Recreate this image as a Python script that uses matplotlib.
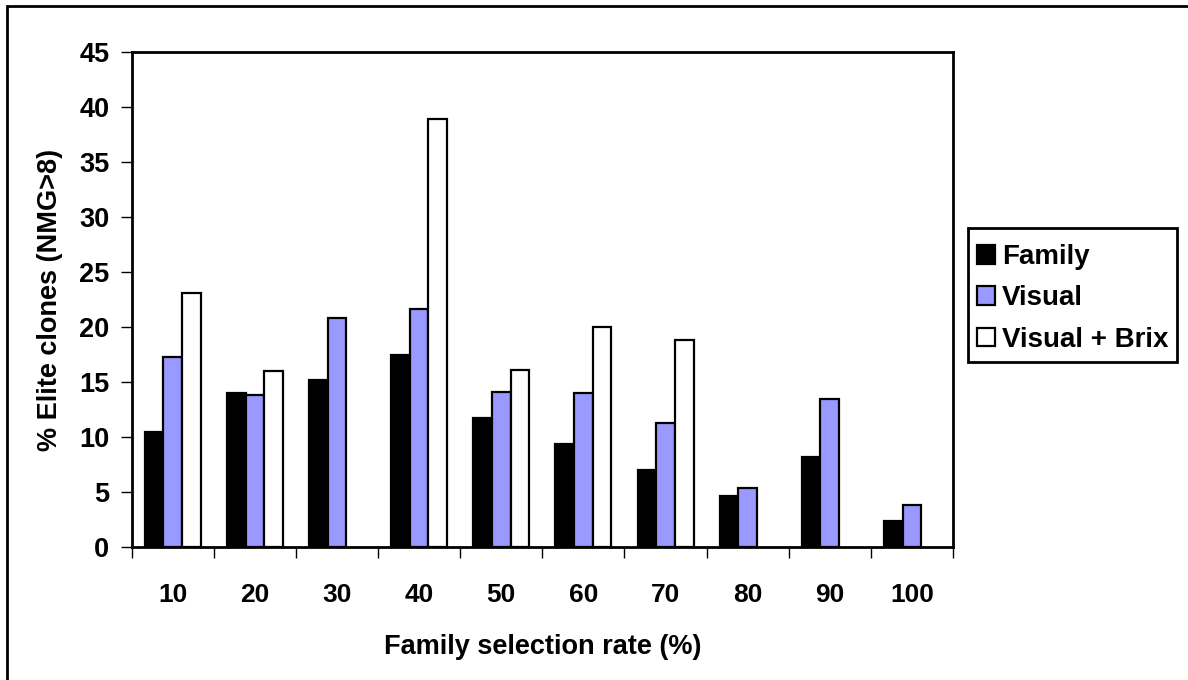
import matplotlib
matplotlib.use("Agg")
import matplotlib.pyplot as plt
import numpy as np
from matplotlib.patches import Rectangle

plt.rcParams['font.family'] = ['Liberation Sans', 'DejaVu Sans']
plt.rcParams['font.weight'] = 'bold'

categories = ["10", "20", "30", "40", "50", "60", "70", "80", "90", "100"]
family = [10.5, 14.0, 15.2, 17.5, 11.7, 9.35, 7.05, 4.65, 8.2, 2.35]
visual = [17.3, 13.8, 20.8, 21.6, 14.1, 14.0, 11.3, 5.4, 13.5, 3.8]
visual_brix = [23.1, 16.0, np.nan, 38.9, 16.1, 20.0, 18.8, np.nan, np.nan, np.nan]
series_names = ["Family", "Visual", "Visual + Brix"]
y_ticks = [0, 5, 10, 15, 20, 25, 30, 35, 40, 45]

W, H = 1188, 680
fig = plt.figure(figsize=(W / 100, H / 100), dpi=100)
ax = fig.add_axes([131.7 / W, 1 - 547.3 / H, (953 - 131.7) / W, (547.3 - 51.7) / H])

x = np.arange(len(categories))
bw = 0.227
colors = ["#000000", "#9999FF", "#FFFFFF"]
for i, (vals, name) in enumerate(zip([family, visual, visual_brix], series_names)):
    v = np.array(vals, dtype=float)
    mask = ~np.isnan(v)
    ax.bar(x[mask] + (i - 1) * bw, v[mask], width=bw, color=colors[i],
           edgecolor="black", linewidth=1.6, label=name, zorder=3)

FS = 19
ax.set_xlim(-0.5, len(categories) - 0.5)
ax.set_ylim(0, 45)
ax.set_yticks(y_ticks)
ax.set_yticklabels([str(t) for t in y_ticks], fontsize=19.5, fontweight='bold')
ax.tick_params(axis='y', length=8, width=1, pad=8, direction='out')

ax.set_xticks(np.arange(len(categories) + 1) - 0.5)
ax.set_xticklabels([])
ax.set_xticks(x, minor=True)
ax.set_xticklabels(categories, minor=True, fontsize=FS, fontweight='bold')
ax.tick_params(axis='x', which='major', length=8, width=1, direction='out')
ax.tick_params(axis='x', which='minor', length=0, pad=26)

for s in ax.spines.values():
    s.set_linewidth(2)
    s.set_color("black")

ax.set_xlabel("Family selection rate (%)", fontsize=19.5, fontweight='bold', labelpad=19)
ax.set_ylabel("% Elite clones (NMG>8)", fontsize=19.5, fontweight='bold', labelpad=12)

# legend box
fig.patches.append(Rectangle((968 / W, 1 - 362 / H), (1177 - 968) / W, (362 - 228) / H,
                             transform=fig.transFigure, facecolor="white",
                             edgecolor="black", linewidth=2, zorder=4))
leg = fig.legend(loc='upper left', bbox_to_anchor=(968 / W, 1 - 235 / H),
                 frameon=False,
                 prop={'weight': 'bold', 'size': 20},
                 handlelength=0.65, handleheight=0.65, handletextpad=0.25,
                 labelspacing=0.55, borderpad=0.33, borderaxespad=0)
leg.set_zorder(5)

fig.patches.append(Rectangle((7 / W, -0.1), 1.2, 1 - 6 / H + 0.1,
                             transform=fig.transFigure, fill=False,
                             edgecolor="black", linewidth=2))

fig.savefig("out.png", dpi=100)
